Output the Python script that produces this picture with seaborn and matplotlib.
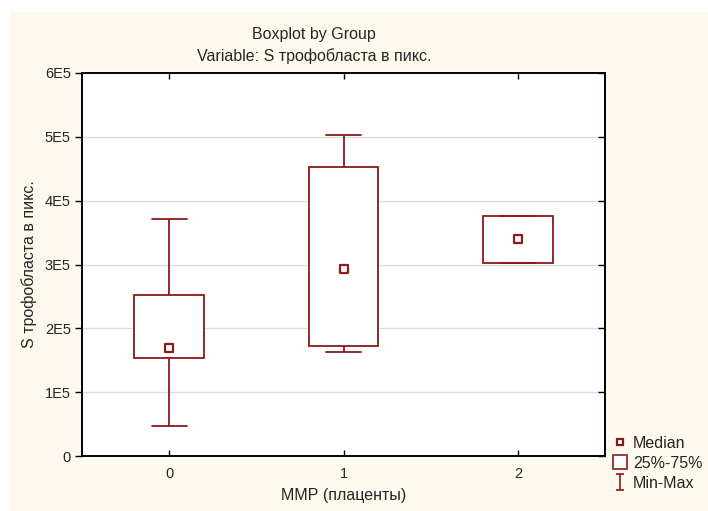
import pandas as pd
import matplotlib.pyplot as plt
import seaborn as sns
from matplotlib.lines import Line2D
from matplotlib.path import Path
from matplotlib.patches import Rectangle

# five-number summaries (min, Q1, median, Q3, max)
groups = ["0", "1", "2"]
mins = [47600, 163700, 302500]
q1s = [153800, 172700, 302500]
medians = [169100, 293000, 340700]
q3s = [252300, 453000, 375200]
maxs = [371600, 503000, 375200]

yticks = [0, 100000, 200000, 300000, 400000, 500000, 600000]
ytick_labels = ["0", "1E5", "2E5", "3E5", "4E5", "5E5", "6E5"]

dark_red = "#8B1A1A"
cream = "#FEF9EE"

# with five points, linear percentiles hit Q1/median/Q3 exactly
rows = []
for g, a, b, c, d, e in zip(groups, mins, q1s, medians, q3s, maxs):
    for v in (a, b, c, d, e):
        rows.append({"group": g, "value": v})
df = pd.DataFrame(rows)

sns.set_style("white")
plt.rcParams["font.family"] = ["Liberation Sans", "DejaVu Sans"]

fig = plt.figure(figsize=(7.08, 5.11), dpi=100)
fig.patch.set_facecolor("white")
fig.patches.append(Rectangle((10 / 708, 0), 1, 1 - 12 / 511, transform=fig.transFigure,
                             facecolor=cream, edgecolor="none", zorder=-10))

ax = fig.add_axes([82 / 708, 55 / 511, 523 / 708, 383 / 511])
ax.set_facecolor("white")
ax.set_axisbelow(True)
ax.yaxis.grid(True, color="#DDDDDD", linewidth=1.0)

sns.boxplot(data=df, x="group", y="value", order=groups, whis=(0, 100),
            width=0.4, color="white", linecolor=dark_red, linewidth=1.3,
            showfliers=False, medianprops={"visible": False}, ax=ax)

sns.scatterplot(x=[0, 1, 2], y=medians, marker="s", s=30, color="white",
                edgecolor=dark_red, linewidth=1.6, zorder=5, ax=ax, legend=False)

ax.set_xlim(-0.5, 2.5)
ax.set_ylim(0, 600000)
ax.set_yticks(yticks)
ax.set_yticklabels(ytick_labels)
ax.set_xticks([0, 1, 2])
ax.set_xticklabels(groups)

for s in ax.spines.values():
    s.set_color("black")
    s.set_linewidth(1.4)
    s.set_visible(True)

ax.tick_params(axis="y", direction="out", left=True, right=True, length=5,
               width=1, labelsize=10.5, pad=3, color="black")
ax.tick_params(axis="x", direction="in", bottom=True, top=True, length=4,
               width=1, labelsize=10.5, pad=8, color="black")
for t in ax.yaxis.get_ticklines()[1::2]:
    t.set_marker(0)  # inward tick on right spine

ax.set_xlabel("ММР (плаценты)", fontsize=11.5, labelpad=5)
ax.set_ylabel("S трофобласта в пикс.", fontsize=11.5, labelpad=6)

fig.text(314 / 708, 1 - 34 / 511, "Boxplot by Group", ha="center", va="center", fontsize=11.5)
fig.text(314 / 708, 1 - 56 / 511, "Variable: S трофобласта в пикс.", ha="center",
         va="center", fontsize=11.5)

imark = Path([(-0.5, 1), (0.5, 1), (0, 1), (0, -1), (-0.5, -1), (0.5, -1)],
             [Path.MOVETO, Path.LINETO, Path.MOVETO, Path.LINETO, Path.MOVETO, Path.LINETO])
handles = [
    Line2D([], [], linestyle="none", marker="s", markersize=5, markerfacecolor="white",
           markeredgecolor=dark_red, markeredgewidth=1.6),
    Line2D([], [], linestyle="none", marker="s", markersize=10.5, markerfacecolor="white",
           markeredgecolor=dark_red, markeredgewidth=1.2),
    Line2D([], [], linestyle="none", marker=imark, markersize=11, markerfacecolor="none",
           markeredgecolor=dark_red, markeredgewidth=1.2),
]
fig.legend(handles, ["Median", "25%-75%", "Min-Max"], loc="upper left",
           bbox_to_anchor=(604 / 708, 1 - 428 / 511), frameon=False, fontsize=11.5,
           handlelength=1.0, handletextpad=0.3, labelspacing=0.3, borderpad=0)

fig.savefig("out.png", dpi=100, facecolor=fig.get_facecolor())
